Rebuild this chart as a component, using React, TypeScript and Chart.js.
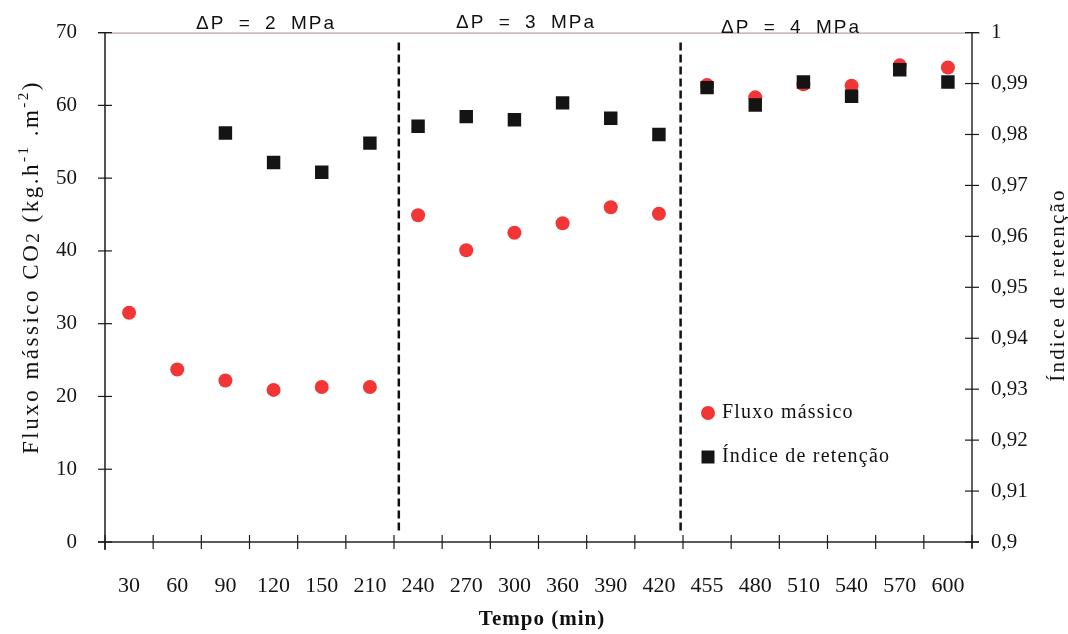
import React, { useEffect, useRef } from 'react';
import { Chart, registerables } from 'chart.js';

Chart.register(...registerables);

// ---- data ----
const categories = ['30', '60', '90', '120', '150', '210', '240', '270', '300', '360', '390', '420', '455', '480', '510', '540', '570', '600'];
const fluxoMassico = [31.5, 23.7, 22.2, 20.9, 21.3, 21.3, 44.9, 40.1, 42.5, 43.8, 46.0, 45.1, 62.8, 61.1, 62.9, 62.7, 65.5, 65.2];
const indiceRetencao = [null, null, 0.9803, 0.9745, 0.9726, 0.9783, 0.9816, 0.9835, 0.9829, 0.9862, 0.9832, 0.98, 0.9892, 0.9858, 0.9903, 0.9875, 0.9927, 0.9903];
const leftAxis = { min: 0, max: 70, step: 10 };
const rightAxis = { min: 0.9, max: 1, step: 0.01 };
const pressureLabels = ['ΔP = 2 MPa', 'ΔP = 3 MPa', 'ΔP = 4 MPa'];
const dividerPositions = [5.6, 11.45];
const seriesNames = ['Fluxo mássico', 'Índice de retenção'];

const RED = '#f23636';
const BLACK = '#141414';
const SERIF = '"Liberation Serif", "Times New Roman", serif';
const SANS = '"Liberation Sans", Arial, sans-serif';

function line(ctx: CanvasRenderingContext2D, x1: number, y1: number, x2: number, y2: number) {
  ctx.beginPath();
  ctx.moveTo(x1, y1);
  ctx.lineTo(x2, y2);
  ctx.stroke();
}

const decorPlugin = {
  id: 'decor',
  beforeDatasetsDraw(chart: any) {
    const ctx: CanvasRenderingContext2D = chart.ctx;
    const { left, right, top, bottom } = chart.chartArea;
    const xs = chart.scales.x;
    const ys = chart.scales.y;
    const ys1 = chart.scales.y1;
    ctx.save();
    // top border
    ctx.strokeStyle = '#a08a90';
    ctx.lineWidth = 1;
    line(ctx, left - 7, top + 0.5, right + 8, top + 0.5);
    // axes
    ctx.strokeStyle = '#1a1a1a';
    ctx.lineWidth = 1.5;
    line(ctx, left, top, left, bottom + 8);
    ctx.strokeStyle = '#2a2a30';
    line(ctx, right, top, right, bottom + 6);
    ctx.strokeStyle = '#2a2222';
    line(ctx, left - 7, bottom, right + 7, bottom);
    ctx.lineWidth = 1.2;
    ctx.strokeStyle = '#1a1a1a';
    ys.ticks.forEach((t: any) => {
      const py = ys.getPixelForValue(t.value);
      line(ctx, left - 7, py, left + 7, py);
    });
    ys1.ticks.forEach((t: any) => {
      const py = ys1.getPixelForValue(t.value);
      line(ctx, right - 7, py, right + 7, py);
    });
    for (let i = 0; i <= categories.length; i++) {
      const px = xs.getPixelForValue(i - 0.5);
      line(ctx, px, bottom - 7, px, bottom + 7);
    }
    // dividers
    ctx.setLineDash([8, 4]);
    ctx.lineWidth = 2.5;
    ctx.strokeStyle = '#111';
    dividerPositions.forEach((v) => {
      const px = xs.getPixelForValue(v);
      line(ctx, px, top + 10, px, bottom - 10);
    });
    ctx.restore();
  },
  afterDraw(chart: any) {
    const ctx: any = chart.ctx;
    ctx.save();
    ctx.fillStyle = '#111';

    // pressure labels
    ctx.font = `19px ${SANS}`;
    ctx.letterSpacing = '2px';
    ctx.wordSpacing = '6px';
    ctx.textAlign = 'center';
    ctx.textBaseline = 'alphabetic';
    const pPos = [[266, 29], [526, 28], [791, 33]];
    pressureLabels.forEach((t, i) => ctx.fillText(t, pPos[i][0], pPos[i][1]));
    ctx.wordSpacing = '0px';

    // legend
    ctx.letterSpacing = '1.2px';
    ctx.font = `20px ${SERIF}`;
    ctx.textAlign = 'left';
    ctx.fillStyle = RED;
    ctx.beginPath();
    ctx.arc(708, 413, 7, 0, Math.PI * 2);
    ctx.fill();
    ctx.fillStyle = BLACK;
    ctx.fillRect(701.5, 450.5, 13, 13);
    ctx.fillStyle = '#111';
    ctx.fillText(seriesNames[0], 722, 418);
    ctx.fillText(seriesNames[1], 722, 462);

    // x title
    ctx.font = `bold 21px ${SERIF}`;
    ctx.letterSpacing = '1px';
    ctx.textAlign = 'center';
    ctx.fillText('Tempo (min)', 542, 625);

    // right title
    ctx.save();
    ctx.translate(1058, 285);
    ctx.rotate(-Math.PI / 2);
    ctx.font = `21px ${SERIF}`;
    ctx.letterSpacing = '2.2px';
    ctx.textAlign = 'center';
    ctx.textBaseline = 'middle';
    ctx.fillText(seriesNames[1], 0, 0);
    ctx.restore();

    // left title with sub/superscripts
    ctx.save();
    ctx.translate(38, 267);
    ctx.rotate(-Math.PI / 2);
    ctx.textAlign = 'left';
    ctx.textBaseline = 'alphabetic';
    const big = `23px ${SERIF}`;
    const small = `15px ${SERIF}`;
    const parts: [string, string, number][] = [
      ['Fluxo mássico CO', big, 0],
      ['2', `19px ${SERIF}`, 1],
      [' (kg.h', big, 0],
      ['-1', small, -10],
      [' .m', big, 0],
      ['-2', small, -10],
      [')', big, 0],
    ];
    ctx.letterSpacing = '2.5px';
    let total = 0;
    parts.forEach(([t, f]) => {
      ctx.font = f;
      total += ctx.measureText(t).width;
    });
    let x = -total / 2;
    parts.forEach(([t, f, dy]) => {
      ctx.font = f;
      ctx.fillText(t, x, dy);
      x += ctx.measureText(t).width;
    });
    ctx.restore();

    ctx.restore();
  },
};

export default function App() {
  const ref = useRef<HTMLCanvasElement | null>(null);
  useEffect(() => {
    if (!ref.current) return;
    const chart = new Chart(ref.current, {
      type: 'scatter',
      data: {
        labels: categories,
        datasets: [
          {
            label: seriesNames[0],
            data: fluxoMassico,
            yAxisID: 'y',
            pointStyle: 'circle',
            pointRadius: 7,
            backgroundColor: RED,
            borderColor: RED,
            borderWidth: 0,
            showLine: false,
            order: 1,
          },
          {
            label: seriesNames[1],
            data: indiceRetencao,
            yAxisID: 'y1',
            pointStyle: 'rect',
            pointRadius: 9.5,
            backgroundColor: BLACK,
            borderColor: BLACK,
            borderWidth: 0,
            showLine: false,
            order: 0,
          },
        ],
      } as any,
      options: {
        animation: false,
        responsive: false,
        layout: { padding: { top: 32, left: 0, right: 0, bottom: 0 } },
        plugins: { legend: { display: false }, tooltip: { enabled: false } },
        scales: {
          x: {
            type: 'category',
            offset: true,
            grid: { display: false },
            border: { display: false },
            ticks: { font: { family: SERIF, size: 22 }, color: '#151515', padding: 23, maxRotation: 0, autoSkip: false },
            afterFit: (s: any) => { s.height = 92; },
          },
          y: {
            type: 'linear',
            position: 'left',
            min: leftAxis.min,
            max: leftAxis.max,
            grid: { display: false },
            border: { display: false },
            ticks: { stepSize: leftAxis.step, font: { family: SERIF, size: 21 }, color: '#151515', padding: 20 },
            afterFit: (s: any) => { s.width = 105; },
          },
          y1: {
            type: 'linear',
            position: 'right',
            min: rightAxis.min,
            max: rightAxis.max,
            grid: { display: false },
            border: { display: false },
            ticks: {
              stepSize: rightAxis.step,
              font: { family: SERIF, size: 21 },
              color: '#151515',
              padding: 11,
              callback: (v: any) => String(Math.round(Number(v) * 100) / 100).replace('.', ','),
            },
            afterFit: (s: any) => { s.width = 96; },
          },
        },
      } as any,
      plugins: [decorPlugin],
    });
    return () => chart.destroy();
  }, []);
  return (
    <div style={{ position: 'absolute', left: 0, top: 0, width: 1068, height: 634, background: '#fff' }}>
      <canvas ref={ref} width={1068} height={634} style={{ display: 'block' }} />
    </div>
  );
}
